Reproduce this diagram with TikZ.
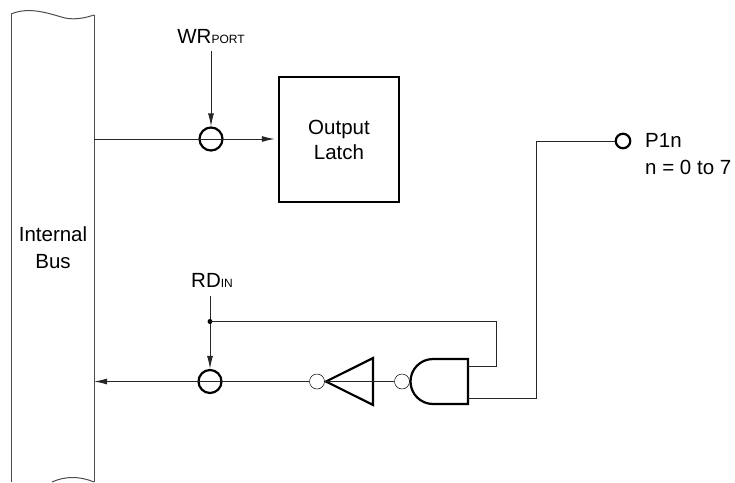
\documentclass[tikz,border=0pt]{standalone}
\usepackage{fontspec}
\setmainfont{Liberation Sans}
\usetikzlibrary{arrows.meta, positioning, calc, shapes.geometric}
\tikzset{
  wire/.style={line width=1pt, black!85},
  sig/.style={wire, -{Latex[length=13pt, width=6pt]}},
  gate/.style={circle, draw, line width=2.2pt, minimum size=23pt, inner sep=0pt},
  bubble/.style={circle, draw, line width=0.5pt, fill=white, minimum size=15pt, inner sep=0pt},
  pad/.style={circle, draw, line width=2.2pt, fill=white, minimum size=14.5pt, inner sep=0pt},
  lbl/.style={font=\fontsize{20.5}{25}\selectfont, inner sep=0pt, align=left}
}
\newcommand{\lowtext}[1]{{\fontsize{12}{15}\selectfont #1}}
\begin{document}
\begin{tikzpicture}[x=1pt, y=-1pt]
  \useasboundingbox (0,0) rectangle (735,482);
  % bus
  \draw[line width=1pt, black!70] (94,15) -- (94,482);
  \draw[line width=1pt, black!70] (11,14) -- (11,482);
  \draw[line width=1pt, black!70] (11,14) .. controls (30,6) and (50,14) .. (65,18) .. controls (75,20) and (85,18) .. (94,15);
  \draw[line width=1pt, black!70] (52,482) .. controls (65,476) and (80,476) .. (94,482);
  \node[lbl, align=center] (bus) at (53,248) {Internal\\[2pt]Bus};
  % write path
  \node[gate] (wrgate) at (211,139) {};
  \node[draw, line width=2.5pt, minimum width=120pt, minimum height=125pt, lbl, align=center] (latch) at (339,139.5) {Output\\Latch};
  \node[lbl] (wr) at (211,37) {WR\lowtext{PORT}};
  \coordinate (wrbus) at (94,139);
  \draw[sig, shorten >=3pt] (wrbus) -- (latch.west |- wrbus);
  \draw[sig] ([yshift=-14pt]wr.center) -- (wrgate);
  % read path
  \node[gate] (rdgate) at (210,381.5) {};
  \node[lbl] (rd) at (212,280) {RD\lowtext{IN}};
  \coordinate (rdbus) at (94,381.5);
  \coordinate (dot) at (210,321.5);
  \coordinate (rdtop) at (210,296);
  \node[draw, line width=2.2pt, isosceles triangle, shape border rotate=180, isosceles triangle apex angle=53, minimum height=47pt, inner sep=0pt, anchor=apex] (inv) at (323.5,381.5) {};
  \node[bubble] (invb) at (317,381.5) {};
  \node[bubble] (andb) at (402,381.5) {};
  \draw[line width=2.2pt, fill=white] (468,359) -- (433,359) arc[start angle=-90, end angle=-270, radius=22.5] -- (468,404) -- cycle;
  \coordinate (andout) at (468,366);
  \draw[sig] (invb) -- (rdbus);
  \draw[wire] (inv.west) -- (andb);
  \draw[sig] (rdtop) -- (rdgate);
  \fill (dot) circle (2.5pt);
  \draw[wire] (dot) -| (496,366) -- (andout);
  % pin
  \node[pad] (pin) at (623,141) {};
  \node[lbl, anchor=west] (pinlbl) at (645,154.5) {P1n\\[2pt]n = 0 to 7};
  \draw[wire] (468,398) -- (536,398) |- (pin);
\end{tikzpicture}
\end{document}
